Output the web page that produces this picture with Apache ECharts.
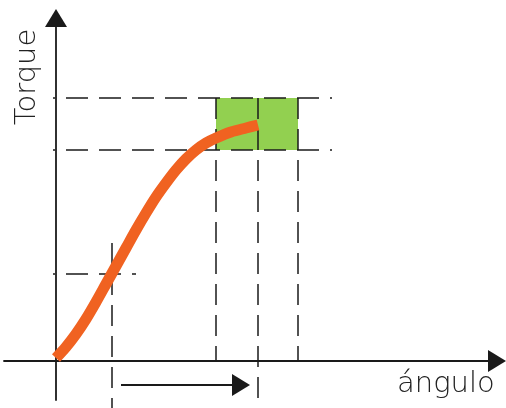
<!DOCTYPE html>
<html>
<head>
<meta charset="utf-8">
<script src="https://cdn.jsdelivr.net/npm/echarts@6/dist/echarts.min.js"></script>
<style>
  html, body { margin: 0; padding: 0; background: #fff; }
  #main { width: 506px; height: 408px; }
</style>
</head>
<body>
<div id="main"></div>
<script>
// curva torque vs angulo (unidades del esquema)
var curveAngle  = [0, 10, 20, 30, 40, 50, 60, 70, 80, 90, 100, 110, 120, 130, 140, 150, 160, 175, 190, 202];
var curveTorque = [3, 14, 27, 42, 59, 77, 95, 113, 131, 148, 164, 178, 191, 202, 211, 218, 223, 229, 233, 236];

// zona verde
var bandAngle  = [160, 242];
var bandTorque = [211, 263];

// guias horizontales: [torque, desde angulo, hasta angulo]
var hGuides = [[263, -3, 276], [211, -3, 276], [87, -3, 80]];
// guias verticales: [angulo, desde torque, hasta torque]
var vGuides = [[56, 118, -47], [160, 263, 0], [202, 263, -47], [242, 263, 0]];

// flecha de desplazamiento: [desde, hasta, torque]
var shiftArrow = [65, 185, -24];

var axisExtent = { angle: [-52, 441], torque: [-39, 343] };

var ink = "#1a1a1a";
var chart = echarts.init(document.getElementById("main"));

var curveData = curveAngle.map(function (a, i) { return [a, curveTorque[i]]; });

function guideSeries(points, dash, offset) {
  return {
    type: "line",
    data: points,
    z: 2,
    clip: false,
    silent: true,
    symbol: "none",
    lineStyle: { color: ink, width: 1.5, type: dash, dashOffset: offset }
  };
}

var series = [
  {
    name: "zona",
    type: "line",
    data: [],
    z: 1,
    silent: true,
    markArea: {
      silent: true,
      itemStyle: { color: "#92d050", opacity: 1 },
      data: [[
        { coord: [bandAngle[0], bandTorque[0]] },
        { coord: [bandAngle[1], bandTorque[1]] }
      ]]
    }
  }
];

hGuides.forEach(function (g) {
  series.push(guideSeries([[g[1], g[0]], [g[2], g[0]]], [22, 11], 20));
});
vGuides.forEach(function (g) {
  series.push(guideSeries([[g[0], g[1]], [g[0], g[2]]], [21, 10], 0));
});

series.push({
  name: "flecha",
  type: "line",
  data: [],
  z: 2,
  silent: true,
  markLine: {
    silent: true,
    symbol: ["none", "triangle"],
    symbolSize: [22, 18],
    label: { show: false },
    lineStyle: { color: ink, width: 1.8, type: "solid" },
    itemStyle: { color: ink },
    data: [[
      { coord: [shiftArrow[0], shiftArrow[2]] },
      { coord: [shiftArrow[1], shiftArrow[2]] }
    ]]
  }
});

series.push({
  name: "torque",
  type: "line",
  data: curveData,
  z: 3,
  smooth: 0.3,
  symbol: "none",
  clip: false,
  lineStyle: { color: "#f06221", width: 11, cap: "butt" }
});

chart.setOption({
  animation: false,
  grid: { left: 4, right: 9, top: 18, bottom: 8 },
  xAxis: {
    type: "value",
    min: axisExtent.angle[0],
    max: axisExtent.angle[1],
    axisLine: {
      onZero: true,
      symbol: ["none", "triangle"],
      symbolSize: [22, 18],
      lineStyle: { color: ink, width: 1.8 }
    },
    axisTick: { show: false },
    axisLabel: { show: false },
    splitLine: { show: false }
  },
  yAxis: {
    type: "value",
    min: axisExtent.torque[0],
    max: axisExtent.torque[1],
    axisLine: {
      onZero: true,
      symbol: ["none", "triangle"],
      symbolSize: [22, 18],
      lineStyle: { color: ink, width: 1.8 }
    },
    axisTick: { show: false },
    axisLabel: { show: false },
    splitLine: { show: false }
  },
  graphic: [
    {
      type: "text",
      x: 27, y: 77,
      rotation: Math.PI / 2,
      style: {
        text: "Torque",
        font: "300 29px 'DejaVu Sans'",
        fill: "#222",
        align: "center",
        verticalAlign: "middle"
      }
    },
    {
      type: "text",
      x: 397, y: 384,
      style: {
        text: "ángulo",
        font: "300 29px 'DejaVu Sans'",
        fill: "#222",
        align: "left",
        verticalAlign: "middle"
      }
    }
  ],
  series: series
});
</script>
</body>
</html>
